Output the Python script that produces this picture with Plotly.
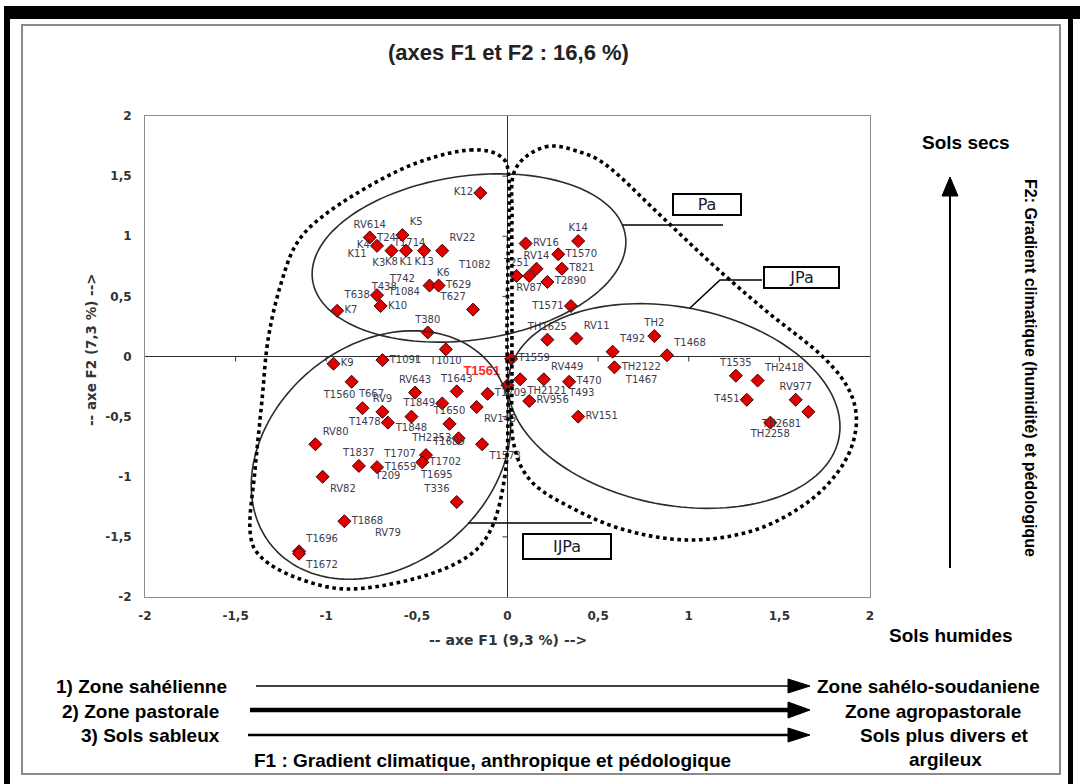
import numpy as np
import plotly.graph_objects as go

# ---------------- data (F1, F2 coordinates) ----------------
pa_names = ["RV614", "K5", "K4", "K8", "K1", "K13", "RV22", "K6", "T629", "T638", "K10", "K7",
            "T627", "T380", "K12", "RV16", "K14", "T1570", "RV14", "T821", "T251", "RV87",
            "T2890", "T1571"]
pa_f1 = [-0.76, -0.58, -0.72, -0.64, -0.56, -0.46, -0.36, -0.43, -0.38, -0.72, -0.70, -0.94,
         -0.19, -0.44, -0.15, 0.10, 0.39, 0.28, 0.16, 0.30, 0.05, 0.12, 0.22, 0.35]
pa_f2 = [0.99, 1.01, 0.92, 0.88, 0.88, 0.88, 0.88, 0.59, 0.59, 0.51, 0.42, 0.38,
         0.39, 0.20, 1.36, 0.94, 0.96, 0.85, 0.73, 0.73, 0.67, 0.67, 0.62, 0.42]

jpa_names = ["TH1625", "RV11", "TH2", "T492", "T1468", "T1559", "TH2122", "TH2121", "RV449",
             "T470", "T1561", "RV956", "RV151", "T1535", "TH2418", "T451", "RV977", "TH2681",
             "TH2258"]
jpa_f1 = [0.22, 0.38, 0.81, 0.58, 0.88, 0.02, 0.59, 0.07, 0.20, 0.34, 0.00, 0.12, 0.39,
          1.26, 1.38, 1.32, 1.59, 1.66, 1.45]
jpa_f2 = [0.14, 0.15, 0.17, 0.04, 0.01, -0.02, -0.09, -0.19, -0.19, -0.21, -0.24, -0.37, -0.50,
          -0.16, -0.20, -0.36, -0.36, -0.46, -0.55]

ijpa_names = ["T1010", "K9", "T1091", "T667", "RV643", "T1643", "T1709", "T1560", "RV9", "T1849",
              "T1848", "T1478", "RV145", "T1650", "TH2253", "T1573", "RV80", "T1689", "T1702",
              "T1837", "T1707", "RV82", "T336", "T1868", "T1696", "T1672"]
ijpa_f1 = [-0.34, -0.96, -0.69, -0.86, -0.51, -0.28, -0.11, -0.80, -0.69, -0.36,
           -0.53, -0.66, -0.17, -0.32, -0.27, -0.14, -1.06, -0.45, -0.47,
           -0.82, -0.72, -1.02, -0.28, -0.90, -1.15, -1.15]
ijpa_f2 = [0.06, -0.06, -0.03, -0.21, -0.30, -0.29, -0.31, -0.43, -0.46, -0.39,
           -0.50, -0.55, -0.42, -0.56, -0.68, -0.73, -0.73, -0.82, -0.88,
           -0.91, -0.92, -1.00, -1.21, -1.37, -1.62, -1.64]

# labels whose markers are hidden under other markers
hid_names = ["K11", "K3", "T244", "T1714", "T1082", "T742", "T438", "T1084", "T1467", "T493",
             "T1659", "T209", "T1695", "RV79"]
hid_f1 = [-0.83, -0.71, -0.65, -0.54, -0.18, -0.58, -0.68, -0.57, 0.74, 0.41,
          -0.59, -0.66, -0.39, -0.66]
hid_f2 = [0.85, 0.77, 0.98, 0.94, 0.76, 0.64, 0.57, 0.53, -0.20, -0.31,
          -0.92, -1.00, -0.99, -1.47]

x_ticks = [-2, -1.5, -1, -0.5, 0, 0.5, 1, 1.5, 2]
x_tick_text = ["-2", "-1,5", "-1", "-0,5", "0", "0,5", "1", "1,5", "2"]
y_ticks = [-2, -1.5, -1, -0.5, 0, 0.5, 1, 1.5, 2]
y_tick_text = ["-2", "-1,5", "-1", "-0,5", "0", "0,5", "1", "1,5", "2"]

highlight = "T1561"

# ---------------- label placement (style) ----------------
LABEL_POS = {
    "RV614": "top center", "K5": "top right", "K4": "middle left", "K8": "bottom center",
    "K1": "bottom center", "K13": "bottom center", "RV22": "top right", "K6": "top right",
    "T629": "middle right", "T638": "middle left", "K10": "middle right", "K7": "middle right",
    "T627": "top left", "T380": "top center", "K12": "middle left", "RV16": "middle right",
    "K14": "top center", "T1570": "middle right", "RV14": "top center", "T821": "middle right",
    "T251": "top center", "RV87": "bottom center", "T2890": "middle right", "T1571": "middle left",
    "TH1625": "top center", "RV11": "top right", "TH2": "top center", "T492": "top right",
    "T1468": "top right", "T1559": "middle right", "TH2122": "middle right",
    "TH2121": "bottom right", "RV449": "top right", "T470": "middle right", "T1561": "top left",
    "RV956": "middle right", "RV151": "middle right", "T1535": "top center",
    "TH2418": "top right", "T451": "middle left", "RV977": "top center",
    "TH2681": "bottom left", "TH2258": "bottom center",
    "T1010": "bottom center", "K9": "middle right", "T1091": "middle right",
    "T667": "bottom right", "RV643": "top center", "T1643": "top center",
    "T1709": "middle right", "T1560": "top left", "RV9": "top center", "T1849": "middle left",
    "T1848": "bottom center", "T1478": "middle left", "RV145": "bottom right",
    "T1650": "top center", "TH2253": "middle left", "T1573": "bottom right",
    "RV80": "top right", "T1689": "top right", "T1702": "middle right",
    "T1837": "top center", "T1707": "top right", "RV82": "bottom right",
    "T336": "top left", "T1868": "middle right", "T1696": "top right", "T1672": "bottom right",
}

W, H = 1080, 784
PL, PR, PT, PB = 145, 870, 116, 597   # plot area in pixels
XR, YR = (-2, 2), (-2, 2)


def px2x(px):
    return XR[0] + (px - PL) / (PR - PL) * (XR[1] - XR[0])


def py2y(py):
    return YR[1] - (py - PT) / (PB - PT) * (YR[1] - YR[0])


def ppx(px):
    return (px - PL) / (PR - PL)


def ppy(py):
    return (PB - py) / (PB - PT)


LABEL_FONT = "DejaVu Sans"
LABEL_COLOR = "#3c3c4e"

fig = go.Figure()

all_names = pa_names + jpa_names + ijpa_names
all_f1 = pa_f1 + jpa_f1 + ijpa_f1
all_f2 = pa_f2 + jpa_f2 + ijpa_f2

fig.add_trace(go.Scatter(
    x=hid_f1, y=hid_f2, text=hid_names, mode="text", textposition="middle center",
    textfont=dict(family=LABEL_FONT, size=10, color=LABEL_COLOR), hoverinfo="skip",
    showlegend=False))

fig.add_trace(go.Scatter(
    x=all_f1, y=all_f2, text=all_names, mode="markers+text",
    textposition=[LABEL_POS.get(n, "top right") for n in all_names],
    textfont=dict(family=[("Liberation Sans" if n == highlight else LABEL_FONT) for n in all_names],
                  size=[13 if n == highlight else 10 for n in all_names],
                  color=["#ff2a2a" if n == highlight else LABEL_COLOR for n in all_names]),
    texttemplate=["<b>%{text}</b>" if n == highlight else "%{text}" for n in all_names],
    marker=dict(symbol="diamond", size=10, color="#e10000",
                line=dict(color="#3a0000", width=1)),
    showlegend=False))

shapes = []


def path_from(points_px, close=True):
    s = "M " + " L ".join(f"{px2x(p[0]):.4f},{py2y(p[1]):.4f}" for p in points_px)
    return s + (" Z" if close else "")


def ellipse_px(cx, cy, a, b, ang_deg, n=160):
    t = np.linspace(0, 2 * np.pi, n, endpoint=False)
    c, s = np.cos(np.radians(ang_deg)), np.sin(np.radians(ang_deg))
    xs = cx + a * np.cos(t) * c - b * np.sin(t) * s
    ys = cy + a * np.cos(t) * s + b * np.sin(t) * c
    return list(zip(xs, ys))


def catmull_closed(pts, n=24):
    P = np.array(pts, float)
    N = len(P)
    out = []
    for i in range(N):
        p0, p1, p2, p3 = P[(i - 1) % N], P[i], P[(i + 1) % N], P[(i + 2) % N]
        for t in np.linspace(0, 1, n, endpoint=False):
            t2, t3 = t * t, t * t * t
            out.append(0.5 * ((2 * p1) + (-p0 + p2) * t + (2 * p0 - 5 * p1 + 4 * p2 - p3) * t2
                              + (-p0 + 3 * p1 - 3 * p2 + p3) * t3))
    return out


# solid ellipses (Pa, JPa, IJPa)
for (cx, cy, a, b, ang) in [(469, 258, 158, 82, -8), (674, 406, 168, 99, 11),
                            (381, 455, 142, 110, -40)]:
    shapes.append(dict(type="path", path=path_from(ellipse_px(cx, cy, a, b, ang)),
                       line=dict(color="#2b2b2b", width=1.6), layer="above"))

# dotted outlines
left_dot = [(470, 150), (500, 156), (509, 180), (508, 260), (507, 340), (508, 420), (505, 475),
            (492, 527), (467, 557), (417, 578), (350, 589), (300, 579), (262, 558), (250, 530),
            (255, 470), (262, 400), (268, 340), (280, 287), (297, 243), (327, 213), (380, 180),
            (425, 160)]
right_dot = [(545, 147), (580, 152), (610, 168), (660, 215), (712, 264), (765, 310), (822, 356),
             (850, 392), (856, 428), (842, 466), (808, 502), (755, 530), (690, 540), (625, 530),
             (570, 507), (530, 480), (513, 440), (512, 380), (512, 300), (512, 220), (515, 170)]
for pts in (left_dot, right_dot):
    shapes.append(dict(type="path", path=path_from(catmull_closed(pts)),
                       line=dict(color="black", width=3.6, dash="dot"), layer="above"))

# connector lines for the group labels
for seg in [[(623, 225), (723, 225)], [(762, 280), (720, 280), (690, 308)],
            [(468, 523), (592, 523)]]:
    shapes.append(dict(type="path", path=path_from(seg, close=False),
                       line=dict(color="black", width=1.6), layer="above"))

# small tick marks on the zero lines
for v in x_ticks[1:-1]:
    if v != 0:
        shapes.append(dict(type="line", xref="x", yref="y", x0=v, x1=v, y0=0, y1=-5,
                           ysizemode="pixel", yanchor=0, line=dict(color="#333", width=1)))
        shapes.append(dict(type="line", xref="x", yref="y", y0=v, y1=v, x0=0, x1=-5,
                           xsizemode="pixel", xanchor=0, line=dict(color="#333", width=1)))
shapes.append(dict(type="line", xref="x", yref="y", x0=0, x1=0, y0=0, y1=-6,
                   ysizemode="pixel", yanchor=-2, line=dict(color="#333", width=1)))
shapes.append(dict(type="line", xref="x", yref="y", y0=0, y1=0, x0=0, x1=-6,
                   xsizemode="pixel", xanchor=-2, line=dict(color="#333", width=1)))

# frame of the picture
P = dict(xref="paper", yref="paper")
shapes.append(dict(type="rect", x0=ppx(22), x1=ppx(1060), y0=ppy(774), y1=ppy(25),
                   line=dict(color="#8a8a8a", width=2), **P))
shapes.append(dict(type="rect", x0=ppx(4), x1=ppx(1080), y0=ppy(19), y1=ppy(6),
                   fillcolor="black", line=dict(width=0), **P))
shapes.append(dict(type="rect", x0=ppx(4), x1=ppx(10), y0=ppy(784), y1=ppy(6),
                   fillcolor="black", line=dict(width=0), **P))
shapes.append(dict(type="rect", x0=ppx(1068), x1=ppx(1073), y0=ppy(784), y1=ppy(6),
                   fillcolor="black", line=dict(width=0), **P))

# vertical gradient arrow on the right
shapes.append(dict(type="line", x0=ppx(950), x1=ppx(950), y0=ppy(568), y1=ppy(194),
                   line=dict(color="black", width=2), **P))
shapes.append(dict(type="path", path=f"M {ppx(942)},{ppy(196)} L {ppx(950)},{ppy(177)} L {ppx(958)},{ppy(196)} Z",
                   fillcolor="black", line=dict(color="black", width=1), **P))

# horizontal arrows at the bottom
for (x0, x1, y, w, hh) in [(256, 792, 686, 1.6, 7), (250, 792, 710, 4.5, 8), (248, 792, 735, 2.6, 7)]:
    shapes.append(dict(type="line", x0=ppx(x0), x1=ppx(x1), y0=ppy(y), y1=ppy(y),
                       line=dict(color="black", width=w), **P))
    shapes.append(dict(type="path",
                       path=f"M {ppx(788)},{ppy(y - hh)} L {ppx(810)},{ppy(y)} L {ppx(788)},{ppy(y + hh)} Z",
                       fillcolor="black", line=dict(color="black", width=1), **P))

annotations = []
ARIAL = "Liberation Sans, Arial, sans-serif"


def ann(text, x, y, size, family=ARIAL, color="black", bold=True, xanchor="center", angle=0):
    annotations.append(dict(text=(f"<b>{text}</b>" if bold else text), x=ppx(x), y=ppy(y),
                            xref="paper", yref="paper", showarrow=False, xanchor=xanchor,
                            yanchor="middle", textangle=angle,
                            font=dict(family=family, size=size, color=color)))


ann("(axes F1 et F2 : 16,6 %)", 508, 53, 22, color="#222")
ann("-- axe F1 (9,3 %) -->", 508, 640, 14, family="DejaVu Sans", color="#333")
ann("-- axe F2 (7,3 %) -->", 91, 350, 13.5, family="DejaVu Sans", color="#333", angle=-90)
ann("Sols secs", 966, 142, 19)
ann("Sols humides", 951, 635, 19)
ann("F2: Gradient climatique (humidité) et pédologique", 1031, 368, 16, angle=90)
ann("1) Zone sahélienne", 141, 686, 19)
ann("2) Zone pastorale", 140, 711, 19)
ann("3) Sols sableux", 150, 735, 19)
ann("Zone sahélo-soudaniene", 928, 686, 19)
ann("Zone agropastorale", 933, 711, 19)
ann("Sols plus divers et", 944, 735, 19)
ann("argileux", 945, 759, 19)
ann("F1 : Gradient climatique, anthropique et pédologique", 492, 760, 19)

# group boxes
for (txt, cx, cy, w, h) in [("Pa", 707, 204.5, 66, 19), ("JPa", 801.5, 277.5, 73, 19),
                            ("IJPa", 567, 546.5, 86, 23)]:
    annotations.append(dict(text=txt, x=px2x(cx), y=py2y(cy), xref="x", yref="y",
                            showarrow=False, width=w, height=h, bordercolor="black",
                            borderwidth=2, bgcolor="white", borderpad=0,
                            font=dict(family="DejaVu Sans", size=16, color="#1a1a2e")))

axis_common = dict(showline=True, linecolor="#8c8c8c", linewidth=1, mirror=True,
                   showgrid=False, ticks="", zeroline=True, zerolinecolor="#303030",
                   zerolinewidth=1.3,
                   tickfont=dict(family="DejaVu Sans", size=12, color="#333"))

fig.update_layout(
    width=W, height=H, margin=dict(l=PL, r=W - PR, t=PT, b=H - PB),
    paper_bgcolor="white", plot_bgcolor="white",
    xaxis=dict(range=list(XR), tickvals=x_ticks, ticktext=[f"<b>{t}</b>" for t in x_tick_text],
               ticklabelstandoff=8, **axis_common),
    yaxis=dict(range=list(YR), tickvals=y_ticks, ticktext=[f"<b>{t}</b>" for t in y_tick_text],
               ticklabelstandoff=10, **axis_common),
    shapes=shapes, annotations=annotations, showlegend=False,
)

fig.write_html("out.html")
